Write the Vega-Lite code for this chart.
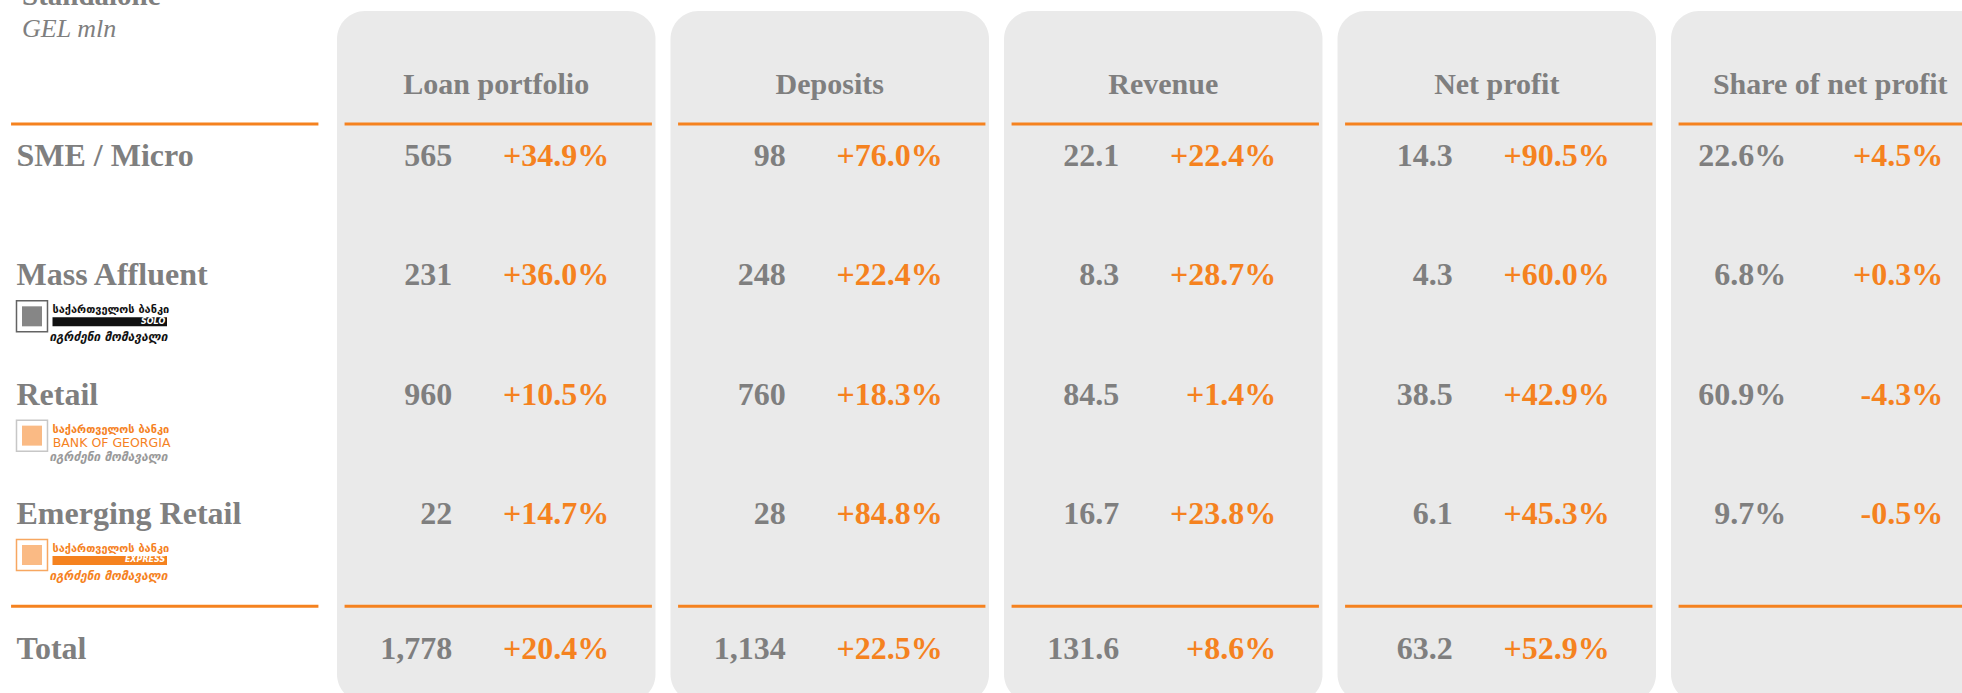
{
  "$schema": "https://vega.github.io/schema/vega-lite/v6.json",
  "width": 1962,
  "height": 693,
  "autosize": {"type": "none"},
  "padding": 0,
  "background": "#ffffff",
  "config": {"view": {"stroke": null}},
  "datasets": {
    "table": [
      {"segment": "SME / Micro", "metric": "Loan portfolio", "value": "565", "change": "+34.9%"},
      {"segment": "SME / Micro", "metric": "Deposits", "value": "98", "change": "+76.0%"},
      {"segment": "SME / Micro", "metric": "Revenue", "value": "22.1", "change": "+22.4%"},
      {"segment": "SME / Micro", "metric": "Net profit", "value": "14.3", "change": "+90.5%"},
      {"segment": "SME / Micro", "metric": "Share of net profit", "value": "22.6%", "change": "+4.5%"},
      {"segment": "Mass Affluent", "metric": "Loan portfolio", "value": "231", "change": "+36.0%"},
      {"segment": "Mass Affluent", "metric": "Deposits", "value": "248", "change": "+22.4%"},
      {"segment": "Mass Affluent", "metric": "Revenue", "value": "8.3", "change": "+28.7%"},
      {"segment": "Mass Affluent", "metric": "Net profit", "value": "4.3", "change": "+60.0%"},
      {"segment": "Mass Affluent", "metric": "Share of net profit", "value": "6.8%", "change": "+0.3%"},
      {"segment": "Retail", "metric": "Loan portfolio", "value": "960", "change": "+10.5%"},
      {"segment": "Retail", "metric": "Deposits", "value": "760", "change": "+18.3%"},
      {"segment": "Retail", "metric": "Revenue", "value": "84.5", "change": "+1.4%"},
      {"segment": "Retail", "metric": "Net profit", "value": "38.5", "change": "+42.9%"},
      {"segment": "Retail", "metric": "Share of net profit", "value": "60.9%", "change": "-4.3%"},
      {"segment": "Emerging Retail", "metric": "Loan portfolio", "value": "22", "change": "+14.7%"},
      {"segment": "Emerging Retail", "metric": "Deposits", "value": "28", "change": "+84.8%"},
      {"segment": "Emerging Retail", "metric": "Revenue", "value": "16.7", "change": "+23.8%"},
      {"segment": "Emerging Retail", "metric": "Net profit", "value": "6.1", "change": "+45.3%"},
      {"segment": "Emerging Retail", "metric": "Share of net profit", "value": "9.7%", "change": "-0.5%"},
      {"segment": "Total", "metric": "Loan portfolio", "value": "1,778", "change": "+20.4%"},
      {"segment": "Total", "metric": "Deposits", "value": "1,134", "change": "+22.5%"},
      {"segment": "Total", "metric": "Revenue", "value": "131.6", "change": "+8.6%"},
      {"segment": "Total", "metric": "Net profit", "value": "63.2", "change": "+52.9%"}
    ],
    "columns": [
      {"metric": "labels"},
      {"metric": "Loan portfolio"},
      {"metric": "Deposits"},
      {"metric": "Revenue"},
      {"metric": "Net profit"},
      {"metric": "Share of net profit"}
    ],
    "segments": [
      {"segment": "SME / Micro"},
      {"segment": "Mass Affluent"},
      {"segment": "Retail"},
      {"segment": "Emerging Retail"},
      {"segment": "Total"}
    ],
    "logos": [
      {"segment": "Mass Affluent", "brand": "SOLO", "name": "საქართველოს ბანკი", "tagline": "იგრძენი მომავალი"},
      {"segment": "Retail", "brand": "BANK OF GEORGIA", "name": "საქართველოს ბანკი", "tagline": "იგრძენი მომავალი"},
      {"segment": "Emerging Retail", "brand": "EXPRESS", "name": "საქართველოს ბანკი", "tagline": "იგრძენი მომავალი"}
    ],
    "heading": [{"title": "Standalone", "unit": "GEL mln"}]
  },
  "layer": [
    {
      "data": {"name": "columns"},
      "transform": [{"filter": "datum.metric !== 'labels'"}],
      "mark": {"type": "rect", "fill": "#eaeaea", "cornerRadius": 28, "yOffset": -145, "y2Offset": 69},
      "encoding": {
        "x": {
          "field": "metric", "type": "nominal",
          "scale": {"type": "band", "domain": ["labels", "Loan portfolio", "Deposits", "Revenue", "Net profit", "Share of net profit"], "range": [3.5, 1989.5], "paddingInner": 0.045, "paddingOuter": 0},
          "axis": null
        },
        "y": {
          "datum": "SME / Micro", "type": "nominal",
          "scale": {"type": "point", "domain": ["SME / Micro", "Mass Affluent", "Retail", "Emerging Retail", "Total"], "range": [156, 633.3], "padding": 0},
          "axis": null
        },
        "y2": {"datum": "Total"}
      }
    },
    {
      "data": {"name": "columns"},
      "mark": {"type": "rect", "fill": "#f5821f", "width": {"band": 0.965}, "xOffset": 2, "yOffset": -33.5, "y2Offset": -30.5},
      "encoding": {
        "x": {"field": "metric", "type": "nominal"},
        "y": {"datum": "SME / Micro", "type": "nominal"},
        "y2": {"datum": "SME / Micro"}
      }
    },
    {
      "data": {"name": "columns"},
      "mark": {"type": "rect", "fill": "#f5821f", "width": {"band": 0.965}, "xOffset": 2, "yOffset": -28.5, "y2Offset": -25.5},
      "encoding": {
        "x": {"field": "metric", "type": "nominal"},
        "y": {"datum": "Total", "type": "nominal"},
        "y2": {"datum": "Total"}
      }
    },
    {
      "data": {"name": "columns"},
      "transform": [{"filter": "datum.metric !== 'labels'"}],
      "mark": {"type": "text", "font": "Liberation Serif", "fontWeight": "bold", "fontSize": 30, "color": "#7f7f7f", "align": "center", "baseline": "middle", "dy": -71},
      "encoding": {
        "x": {"field": "metric", "type": "nominal"},
        "y": {"datum": "SME / Micro", "type": "nominal"},
        "text": {"field": "metric"}
      }
    },
    {
      "data": {"name": "segments"},
      "transform": [{"filter": "datum.segment !== 'Total'"}],
      "mark": {"type": "text", "font": "Liberation Serif", "fontWeight": "bold", "fontSize": 32, "color": "#7f7f7f", "align": "left", "baseline": "middle", "dx": -146.25},
      "encoding": {
        "x": {"datum": "labels", "type": "nominal"},
        "y": {"field": "segment", "type": "nominal"},
        "text": {"field": "segment"}
      }
    },
    {
      "data": {"name": "segments"},
      "transform": [{"filter": "datum.segment === 'Total'"}],
      "mark": {"type": "text", "font": "Liberation Serif", "fontWeight": "bold", "fontSize": 32, "color": "#7f7f7f", "align": "left", "baseline": "middle", "dx": -146.25, "dy": 16},
      "encoding": {
        "x": {"datum": "labels", "type": "nominal"},
        "y": {"field": "segment", "type": "nominal"},
        "text": {"field": "segment"}
      }
    },
    {
      "data": {"name": "table"},
      "transform": [{"filter": "datum.segment !== 'Total'"}],
      "mark": {"type": "text", "font": "Liberation Serif", "fontWeight": "bold", "fontSize": 32, "color": "#7f7f7f", "align": "right", "baseline": "middle", "dx": -44},
      "encoding": {
        "x": {"field": "metric", "type": "nominal"},
        "y": {"field": "segment", "type": "nominal"},
        "text": {"field": "value"}
      }
    },
    {
      "data": {"name": "table"},
      "transform": [{"filter": "datum.segment !== 'Total'"}],
      "mark": {"type": "text", "font": "Liberation Serif", "fontWeight": "bold", "fontSize": 32, "color": "#f5821f", "align": "right", "baseline": "middle", "dx": 113},
      "encoding": {
        "x": {"field": "metric", "type": "nominal"},
        "y": {"field": "segment", "type": "nominal"},
        "text": {"field": "change"}
      }
    },
    {
      "data": {"name": "table"},
      "transform": [{"filter": "datum.segment === 'Total'"}],
      "mark": {"type": "text", "font": "Liberation Serif", "fontWeight": "bold", "fontSize": 32, "color": "#7f7f7f", "align": "right", "baseline": "middle", "dx": -44, "dy": 16},
      "encoding": {
        "x": {"field": "metric", "type": "nominal"},
        "y": {"field": "segment", "type": "nominal"},
        "text": {"field": "value"}
      }
    },
    {
      "data": {"name": "table"},
      "transform": [{"filter": "datum.segment === 'Total'"}],
      "mark": {"type": "text", "font": "Liberation Serif", "fontWeight": "bold", "fontSize": 32, "color": "#f5821f", "align": "right", "baseline": "middle", "dx": 113, "dy": 16},
      "encoding": {
        "x": {"field": "metric", "type": "nominal"},
        "y": {"field": "segment", "type": "nominal"},
        "text": {"field": "change"}
      }
    },
    {
      "data": {"name": "heading"},
      "mark": {"type": "text", "font": "Liberation Serif", "fontWeight": "bold", "fontSize": 29, "color": "#7f7f7f", "align": "left", "baseline": "alphabetic", "dx": -140.75, "dy": -151},
      "encoding": {
        "x": {"datum": "labels", "type": "nominal"},
        "y": {"datum": "SME / Micro", "type": "nominal"},
        "text": {"field": "title"}
      }
    },
    {
      "data": {"name": "heading"},
      "mark": {"type": "text", "font": "Liberation Serif", "fontStyle": "italic", "fontSize": 26, "color": "#7f7f7f", "align": "left", "baseline": "alphabetic", "dx": -140.75, "dy": -119},
      "encoding": {
        "x": {"datum": "labels", "type": "nominal"},
        "y": {"datum": "SME / Micro", "type": "nominal"},
        "text": {"field": "unit"}
      }
    },
    {
      "data": {"name": "logos"},
      "mark": {"type": "point", "shape": "square", "size": 961, "filled": false, "strokeWidth": 1.5, "xOffset": -130.75, "yOffset": 41},
      "encoding": {
        "x": {"datum": "labels", "type": "nominal"},
        "y": {"field": "segment", "type": "nominal"},
        "color": {"condition": {"test": "datum.brand === 'SOLO'", "value": "#222222"}, "value": {"expr": "datum.brand === 'EXPRESS' ? '#f5821f' : '#b0b0b0'"}}
      }
    },
    {
      "data": {"name": "logos"},
      "mark": {"type": "point", "shape": "square", "size": 400, "filled": true, "opacity": 0.55, "xOffset": -130.75, "yOffset": 41},
      "encoding": {
        "x": {"datum": "labels", "type": "nominal"},
        "y": {"field": "segment", "type": "nominal"},
        "color": {"condition": {"test": "datum.brand === 'SOLO'", "value": "#222222"}, "value": "#f5821f"}
      }
    },
    {
      "data": {"name": "logos"},
      "mark": {"type": "text", "font": "DejaVu Sans", "fontWeight": "bold", "fontSize": 11, "align": "left", "baseline": "middle", "dx": -110.25, "dy": 35},
      "encoding": {
        "x": {"datum": "labels", "type": "nominal"},
        "y": {"field": "segment", "type": "nominal"},
        "text": {"field": "name"},
        "color": {"condition": {"test": "datum.brand === 'SOLO'", "value": "#111111"}, "value": "#f5821f"}
      }
    },
    {
      "data": {"name": "logos"},
      "transform": [{"filter": "datum.brand !== 'BANK OF GEORGIA'"}],
      "mark": {"type": "rule", "strokeWidth": 9, "strokeCap": "butt", "xOffset": -110.25, "x2Offset": 4.25, "yOffset": 46.5},
      "encoding": {
        "x": {"datum": "labels", "type": "nominal", "bandPosition": 0.5},
        "x2": {"datum": "labels"},
        "y": {"field": "segment", "type": "nominal"},
        "color": {"condition": {"test": "datum.brand === 'SOLO'", "value": "#111111"}, "value": "#f5821f"}
      }
    },
    {
      "data": {"name": "logos"},
      "transform": [{"filter": "datum.brand !== 'BANK OF GEORGIA'"}],
      "mark": {"type": "text", "font": "DejaVu Sans", "fontWeight": "bold", "fontStyle": "italic", "fontSize": 8, "color": "#ffffff", "align": "right", "baseline": "middle", "dx": 2.5, "dy": 46.5},
      "encoding": {
        "x": {"datum": "labels", "type": "nominal"},
        "y": {"field": "segment", "type": "nominal"},
        "text": {"field": "brand"}
      }
    },
    {
      "data": {"name": "logos"},
      "transform": [{"filter": "datum.brand === 'BANK OF GEORGIA'"}],
      "mark": {"type": "text", "font": "DejaVu Sans", "fontSize": 12.5, "color": "#f5821f", "align": "left", "baseline": "middle", "dx": -110, "dy": 48.5},
      "encoding": {
        "x": {"datum": "labels", "type": "nominal"},
        "y": {"field": "segment", "type": "nominal"},
        "text": {"field": "brand"}
      }
    },
    {
      "data": {"name": "logos"},
      "mark": {"type": "text", "font": "DejaVu Sans", "fontWeight": "bold", "fontStyle": "italic", "fontSize": 12, "align": "right", "baseline": "middle", "dx": 4.75, "dy": 62},
      "encoding": {
        "x": {"datum": "labels", "type": "nominal"},
        "y": {"field": "segment", "type": "nominal"},
        "text": {"field": "tagline"},
        "color": {"condition": {"test": "datum.brand === 'SOLO'", "value": "#111111"}, "value": {"expr": "datum.brand === 'EXPRESS' ? '#f5821f' : '#999999'"}}
      }
    }
  ]
}
